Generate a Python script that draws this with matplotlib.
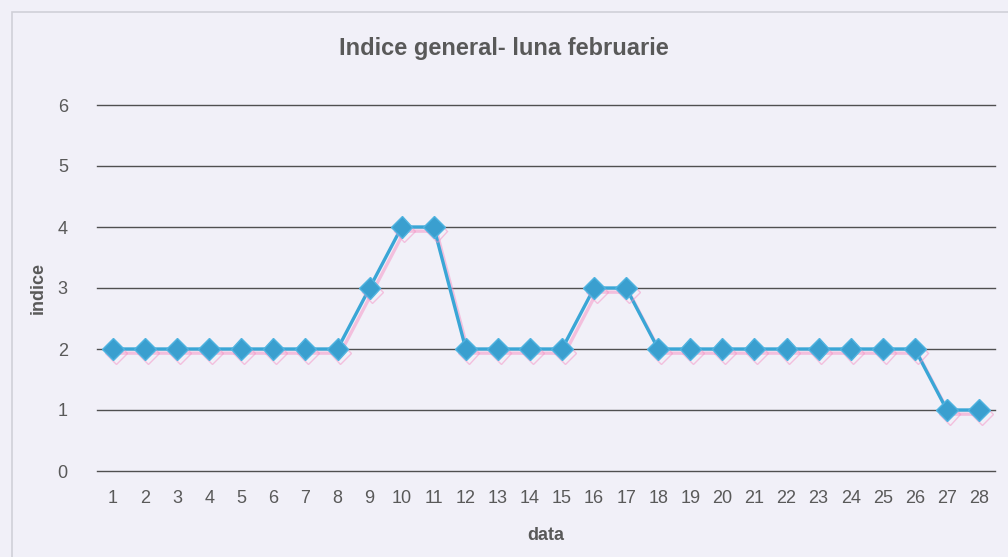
import matplotlib
matplotlib.use("Agg")
import matplotlib.pyplot as plt
import matplotlib.patheffects as pe
from matplotlib.patches import Rectangle

days = list(range(1, 29))
indice = [2, 2, 2, 2, 2, 2, 2, 2, 3, 4, 4, 2, 2, 2, 2, 3, 3,
          2, 2, 2, 2, 2, 2, 2, 2, 2, 1, 1]
yticks = [0, 1, 2, 3, 4, 5, 6]

plt.rcParams["font.family"] = ["Liberation Sans", "DejaVu Sans"]

bg = "#f1f0f8"
fig = plt.figure(figsize=(10.08, 5.57), dpi=100, facecolor=bg)
frame = Rectangle((12 / 1008, -0.1), 1.1, 1 - 12 / 557 + 0.1,
                  transform=fig.transFigure, facecolor=bg,
                  edgecolor="#d0d0d8", linewidth=1.2, zorder=-5)
fig.patches.append(frame)

ax = fig.add_axes([97 / 1008, 1 - 471 / 557, (995 - 97) / 1008, (471 - 105) / 557])
ax.set_facecolor("none")

# horizontal grid lines (drawn unclipped so the 0 line is full width)
for yv in yticks:
    ax.axhline(yv, color="#505050", linewidth=1.0, clip_on=False, zorder=1)

x = list(range(len(days)))
ax.plot(x, indice, color="#3aa6d6", linewidth=2.4, marker="D", markersize=11,
        markerfacecolor="#3a9fcf", markeredgecolor="#4fb3e0", zorder=3,
        path_effects=[pe.SimpleLineShadow(offset=(2, -3), shadow_color="#f590c4",
                                          alpha=0.5), pe.Normal()])

ax.set_xlim(-0.5, len(days) - 0.5)
ax.set_ylim(0, 6)
ax.set_yticks(yticks)
ax.set_xticks(x)
ax.set_xticklabels([str(d) for d in days])
for s in ax.spines.values():
    s.set_visible(False)
ax.tick_params(axis="both", length=0, labelsize=13, labelcolor="#595959")
ax.tick_params(axis="y", pad=21)
ax.tick_params(axis="x", pad=14)

ax.set_ylabel("indice", fontsize=13, fontweight="bold", color="#595959", labelpad=8)
ax.set_xlabel("data", fontsize=13, fontweight="bold", color="#595959", labelpad=14)
fig.text(0.5, 1 - 48 / 557, "Indice general- luna februarie", ha="center", va="center",
         fontsize=17, fontweight="bold", color="#595959")

fig.savefig("out.png", dpi=100, facecolor=bg)
